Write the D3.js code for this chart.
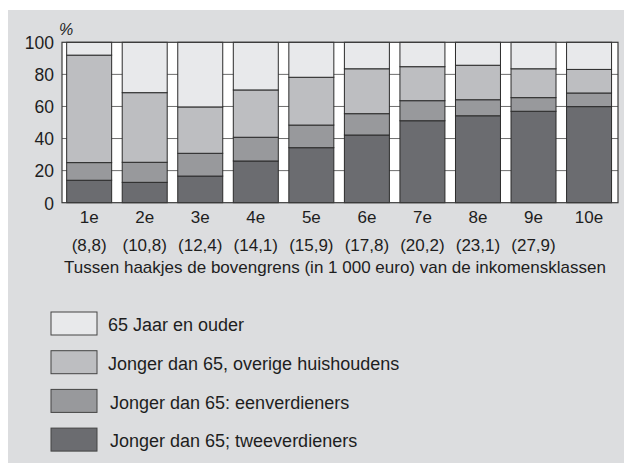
<!DOCTYPE html>
<html>
<head>
<meta charset="utf-8">
<script src="https://cdn.jsdelivr.net/npm/d3@7"></script>
<style>
  body { margin: 0; background: #fff; }
  text { font-family: "Liberation Sans", Arial, sans-serif; fill: #1e1e1e; }
</style>
</head>
<body>
<div id="chart"></div>
<script>
// inkomensklassen en bovengrenzen (in 1 000 euro)
const klassen = ["1e", "2e", "3e", "4e", "5e", "6e", "7e", "8e", "9e", "10e"];
const bovengrens = ["(8,8)", "(10,8)", "(12,4)", "(14,1)", "(15,9)", "(17,8)", "(20,2)", "(23,1)", "(27,9)", ""];

// aandeel huishoudens per klasse (%)
const tweeverdieners = [14, 12.7, 16.6, 26, 34.3, 42.2, 51.1, 54.2, 57, 59.9];
const eenverdieners = [11, 12.5, 14.2, 14.8, 14.1, 13.3, 12.5, 10, 8.5, 8.5];
const overige = [67, 43.4, 28.9, 29.5, 29.8, 28, 21.2, 21.5, 18, 14.7];
const ouderen = [8, 31.4, 40.3, 29.7, 21.8, 16.5, 15.2, 14.3, 16.5, 16.9];

const yTicks = [0, 20, 40, 60, 80, 100];

const seriesKeys = ["twee", "een", "overig", "ouder"];
const seriesLabels = {
    ouder: "65 Jaar en ouder",
    overig: "Jonger dan 65, overige huishoudens",
    een: "Jonger dan 65: eenverdieners",
    twee: "Jonger dan 65; tweeverdieners"
};
const colors = { twee: "#6b6c70", een: "#98999c", overig: "#bdbec1", ouder: "#e8e9eb" };

const rows = klassen.map((k, i) => ({
    klasse: k,
    twee: tweeverdieners[i],
    een: eenverdieners[i],
    overig: overige[i],
    ouder: ouderen[i]
}));

const width = 624, height = 463;
const plot = { left: 62, right: 618, top: 42.3, bottom: 202.7 };

const svg = d3.select("#chart").append("svg")
    .attr("width", width)
    .attr("height", height);

svg.append("rect").attr("width", width).attr("height", height).attr("fill", "#fff");
svg.append("rect")
    .attr("x", 8).attr("y", 10)
    .attr("width", width - 8).attr("height", height - 10)
    .attr("fill", "#dcdddf");

const x = d3.scaleBand()
    .domain(klassen)
    .range([plot.left, plot.right])
    .paddingInner(0.19)
    .paddingOuter(0.1)
    .align(0.42);

const y = d3.scaleLinear()
    .domain([0, 100])
    .range([plot.bottom, plot.top]);

// witte plotvlak
svg.append("rect")
    .attr("x", plot.left).attr("y", plot.top)
    .attr("width", plot.right - plot.left).attr("height", plot.bottom - plot.top)
    .attr("fill", "#fff");

// rasterlijnen
svg.append("g")
    .selectAll("line")
    .data(yTicks.filter(d => d > 0 && d < 100))
    .enter()
    .append("line")
    .attr("x1", plot.left).attr("x2", plot.right)
    .attr("y1", d => y(d)).attr("y2", d => y(d))
    .attr("stroke", "#6e6e6e")
    .attr("stroke-width", 1);

// gestapelde staven
const stacked = d3.stack().keys(seriesKeys)(rows);

svg.append("g")
    .selectAll("g")
    .data(stacked)
    .enter()
    .append("g")
    .attr("fill", d => colors[d.key])
    .selectAll("rect")
    .data(d => d)
    .enter()
    .append("rect")
    .attr("x", d => x(d.data.klasse))
    .attr("y", d => y(d[1]))
    .attr("width", x.bandwidth())
    .attr("height", d => y(d[0]) - y(d[1]))
    .attr("stroke", "#2b2b2b")
    .attr("stroke-width", 1);

// kader
svg.append("rect")
    .attr("x", plot.left).attr("y", plot.top)
    .attr("width", plot.right - plot.left).attr("height", plot.bottom - plot.top)
    .attr("fill", "none")
    .attr("stroke", "#3a3a3a")
    .attr("stroke-width", 1.2);

// y-as labels
const yAxis = svg.append("g")
    .attr("transform", "translate(" + (plot.left - 8) + ",0)")
    .call(d3.axisLeft(y).tickValues(yTicks).tickSize(0).tickPadding(0));
yAxis.select(".domain").remove();
yAxis.selectAll("text")
    .style("font-family", "\"Liberation Sans\", Arial, sans-serif")
    .style("font-size", "17.5px")
    .attr("fill", "#1e1e1e")
    .attr("dy", "0.36em");

svg.append("text")
    .attr("x", 59).attr("y", 35)
    .style("font-size", "16px")
    .style("font-style", "italic")
    .text("%");

// x-as labels
const xAxis = svg.append("g")
    .attr("transform", "translate(0," + plot.bottom + ")")
    .call(d3.axisBottom(x).tickSize(0).tickPadding(0));
xAxis.select(".domain").remove();
xAxis.selectAll("text")
    .style("font-family", "\"Liberation Sans\", Arial, sans-serif")
    .style("font-size", "17px")
    .attr("fill", "#1e1e1e")
    .attr("y", 20.6)
    .attr("dy", 0);

svg.append("g")
    .selectAll("text")
    .data(klassen)
    .enter()
    .append("text")
    .attr("x", d => x(d) + x.bandwidth() / 2)
    .attr("y", 250.5)
    .attr("text-anchor", "middle")
    .style("font-size", "17px")
    .text((d, i) => bovengrens[i]);

svg.append("text")
    .attr("x", (plot.left + 608) / 2)
    .attr("y", 273)
    .attr("text-anchor", "middle")
    .style("font-size", "17px")
    .text("Tussen haakjes de bovengrens (in 1 000 euro) van de inkomensklassen");

// legenda
const legendKeys = ["ouder", "overig", "een", "twee"];
const legend = svg.append("g")
    .selectAll("g")
    .data(legendKeys)
    .enter()
    .append("g")
    .attr("transform", (d, i) => "translate(51," + (312 + i * 38.7) + ")");

legend.append("rect")
    .attr("width", 46).attr("height", 23)
    .attr("fill", d => colors[d])
    .attr("stroke", "#444")
    .attr("stroke-width", 1);

legend.append("text")
    .attr("x", (d, i) => i < 2 ? 57 : 59)
    .attr("y", 19.3)
    .style("font-size", "18px")
    .text(d => seriesLabels[d]);
</script>
</body>
</html>
